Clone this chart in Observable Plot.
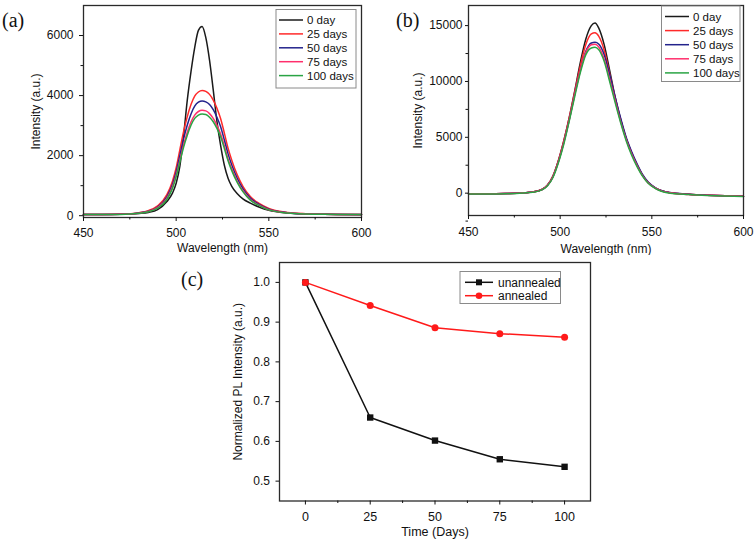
<!DOCTYPE html>
<html>
<head>
<meta charset="utf-8">
<script src="https://cdn.jsdelivr.net/npm/d3@7"></script>
<script src="https://cdn.jsdelivr.net/npm/@observablehq/plot@0.6"></script>
<style>
  html, body { margin: 0; padding: 0; background: #fff; }
  #wrap { position: relative; width: 756px; height: 540px; background: #fff; overflow: hidden; }
  #wrap > .panel { position: absolute; }
  .plabel { position: absolute; font-family: "Liberation Serif", "Times New Roman", serif; font-size: 20px; color: #111; }
</style>
</head>
<body>
<div id="wrap">
  <div class="panel" id="pa" style="left:0px; top:0px;"></div>
  <div class="panel" id="pb" style="left:380px; top:0px;"></div>
  <div class="panel" id="pc" style="left:220px; top:250px;"></div>
  <div class="plabel" style="left:2px; top:9px;">(a)</div>
  <div class="plabel" style="left:396px; top:9px;">(b)</div>
  <div class="plabel" style="left:181px; top:268px;">(c)</div>
</div>
<script>
// ---------------- DATA ----------------
const seriesNames = ["0 day", "25 days", "50 days", "75 days", "100 days"];

// Panel (a) – unannealed spectra
const wavelengthA = [450,460,470,480,485,490,495,498,500,502,504,506,508,510,512,514,516,518,520,522,524,526,528,530,533,536,540,545,550,560,570,580,590,600];
const a_day0   = [40,40,45,75,110,200,470,750,1080,1650,2660,3850,4800,5600,6170,6300,5930,5180,4190,3140,2330,1680,1250,980,730,560,420,280,180,90,55,45,40,35];
const a_day25  = [40,40,50,100,170,330,700,1150,1600,2200,2800,3300,3700,3980,4120,4170,4140,4040,3850,3580,3230,2750,2250,1850,1350,980,640,400,240,110,65,50,42,38];
const a_day50  = [40,40,46,90,150,290,630,1040,1460,2010,2560,3020,3390,3650,3780,3820,3790,3700,3530,3280,2960,2520,2060,1690,1240,900,590,370,220,100,60,48,40,36];
const a_day75  = [40,40,45,85,140,270,580,960,1350,1850,2360,2780,3120,3350,3470,3510,3490,3400,3240,3010,2720,2320,1890,1560,1140,830,540,340,200,95,58,46,40,36];
const a_day100 = [40,40,44,80,130,250,540,910,1300,1790,2280,2680,3010,3240,3350,3390,3370,3280,3130,2910,2630,2240,1830,1500,1100,800,520,330,195,90,55,45,40,36];

// Panel (b) – annealed spectra
const wavelengthB = [450,460,470,480,485,490,493,496,499,502,505,508,511,514,517,519,521,524,527,530,533,536,539,542,545,548,552,556,560,570,580,590,600];
const b_day0   = [-60,-60,-40,30,100,330,700,1500,2900,4700,6800,9200,11700,13800,15000,15240,14800,13300,11000,8600,6600,4900,3600,2500,1600,950,450,170,40,-100,-180,-230,-270];
const b_day25  = [-60,-60,-40,30,100,330,700,1500,2900,4700,6800,9100,11400,13300,14250,14350,14050,12800,10700,8500,6550,4900,3600,2500,1600,950,450,170,40,-100,-180,-230,-270];
const b_day50  = [-60,-60,-40,30,100,320,680,1450,2800,4550,6600,8900,11000,12700,13450,13500,13350,12400,10600,8600,6700,5000,3700,2600,1650,1000,480,190,50,-100,-180,-230,-270];
const b_day75  = [-60,-60,-40,30,100,320,680,1450,2800,4550,6600,8900,11000,12600,13280,13330,13100,12000,10200,8300,6400,4800,3500,2450,1550,920,440,160,30,-110,-190,-240,-280];
const b_day100 = [-70,-70,-50,20,80,290,640,1380,2700,4400,6500,8700,10800,12400,13000,13060,12850,11800,10000,8100,6300,4700,3400,2350,1500,880,400,130,0,-120,-200,-250,-290];

// Panel (c) – normalized PL intensity
const timeDays = [0, 25, 50, 75, 100];
const unannealed = [1.0, 0.660, 0.602, 0.555, 0.536];
const annealed   = [1.0, 0.942, 0.886, 0.871, 0.862];

// Tick values
const ticksA_x = [450, 500, 550, 600];
const minorA_x = [475, 525, 575];
const ticksA_y = [0, 2000, 4000, 6000];
const minorA_y = [1000, 3000, 5000];
const ticksB_y = [0, 5000, 10000, 15000];
const minorB_y = [-2500, 2500, 7500, 12500];
const ticksC_x = [0, 25, 50, 75, 100];
const minorC_x = [12.5, 37.5, 62.5, 87.5];
const ticksC_y = [0.5, 0.6, 0.7, 0.8, 0.9, 1.0];

// ---------------- STYLE ----------------
const seriesColors = ["#1a1a1a", "#ff2a2a", "#23238c", "#ff2f6c", "#2aa444"];
const font = "Liberation Sans, Arial, Helvetica, sans-serif";

function tidy(wl, arrays) {
  const rows = [];
  arrays.forEach((arr, i) => arr.forEach((v, j) => rows.push({series: seriesNames[i], wl: wl[j], v})));
  return rows;
}

function addLegend(svg, box, entries) {
  const g = d3.select(svg).append("g")
    .attr("font-family", font).attr("font-size", box.fontSize + "px").attr("text-anchor", "start")
    .style("font-family", font).style("font-size", box.fontSize + "px");
  g.append("rect").attr("x", box.x).attr("y", box.y).attr("width", box.w).attr("height", box.h)
    .attr("fill", "#fff").attr("stroke", "#8a8a8a").attr("stroke-width", 1);
  entries.forEach((e, i) => {
    const y = box.row0 + i * box.dy;
    g.append("line").attr("x1", box.lx1).attr("x2", box.lx2).attr("y1", y).attr("y2", y)
      .attr("stroke", e.color).attr("stroke-width", 1.5);
    if (e.symbol === "square") {
      g.append("rect").attr("x", (box.lx1 + box.lx2) / 2 - 3).attr("y", y - 3).attr("width", 6).attr("height", 6).attr("fill", e.color);
    } else if (e.symbol === "circle") {
      g.append("circle").attr("cx", (box.lx1 + box.lx2) / 2).attr("cy", y).attr("r", 3.3).attr("fill", e.color);
    }
    g.append("text").attr("x", box.tx).attr("y", y).attr("dy", "0.35em").attr("text-anchor", "start")
      .attr("fill", "#111").text(e.label);
  });
}

function spectrumPlot(cfg) {
  const svg = Plot.plot({
    width: cfg.width, height: cfg.height,
    marginLeft: cfg.ml, marginRight: cfg.mr, marginTop: cfg.mt, marginBottom: cfg.mb,
    style: {fontFamily: font, fontSize: "12px", color: "#111", background: "transparent"},
    x: {domain: [450, 600]},
    y: {domain: cfg.yDomain},
    color: {domain: seriesNames, range: seriesColors},
    marks: [
      Plot.line(cfg.data, {x: "wl", y: "v", z: "series", stroke: "series", strokeWidth: 1.5, curve: "monotone-x"}),
      Plot.frame({stroke: "#2a2a2a", strokeWidth: 1.3}),
      Plot.axisX({ticks: ticksA_x, tickSize: 4, tickPadding: cfg.xPad, tickFormat: "d",
        label: "Wavelength (nm)", labelAnchor: "center", labelArrow: "none", labelOffset: cfg.xLabelOffset}),
      Plot.axisX({ticks: minorA_x, tickSize: 2.5, text: null, label: null}),
      Plot.axisY({ticks: cfg.yTicks, tickSize: cfg.yTickSize, tickPadding: cfg.yPad, tickFormat: "d",
        label: "Intensity (a.u.)", labelAnchor: "center", labelArrow: "none", labelOffset: cfg.yLabelOffset}),
      Plot.axisY({ticks: cfg.yMinor, tickSize: 2.5, text: null, label: null})
    ]
  });
  return svg;
}

// Panel (a)
const svgA = spectrumPlot({
  width: 380, height: 255, ml: 83, mr: 19, mt: 5, mb: 38,
  yDomain: [-60, 7000], yTicks: ticksA_y, yMinor: minorA_y,
  xPad: 7, yPad: 6, yTickSize: 4, xLabelOffset: 34, yLabelOffset: 52,
  data: tidy(wavelengthA, [a_day0, a_day25, a_day50, a_day75, a_day100])
});
addLegend(svgA, {x: 276, y: 9.5, w: 80, h: 78.5, row0: 20, dy: 13.9, lx1: 279, lx2: 303, tx: 307, fontSize: 11.5},
  seriesNames.map((s, i) => ({label: s, color: seriesColors[i]})));
document.getElementById("pa").appendChild(svgA);

// Panel (b)
const svgB = spectrumPlot({
  width: 376, height: 255, ml: 88, mr: 13, mt: 5, mb: 40,
  yDomain: [-2000, 16800], yTicks: ticksB_y, yMinor: minorB_y,
  xPad: 8, yPad: 3, yTickSize: 3, xLabelOffset: 37, yLabelOffset: 55,
  data: tidy(wavelengthB, [b_day0, b_day25, b_day50, b_day75, b_day100])
});
addLegend(svgB, {x: 281.5, y: 6, w: 78.5, h: 75.5, row0: 16.5, dy: 14.1, lx1: 285, lx2: 309, tx: 313, fontSize: 11.5},
  seriesNames.map((s, i) => ({label: s, color: seriesColors[i]})));
document.getElementById("pb").appendChild(svgB);

// Panel (c)
const dataC = [
  ...timeDays.map((t, i) => ({group: "unannealed", t, v: unannealed[i]})),
  ...timeDays.map((t, i) => ({group: "annealed", t, v: annealed[i]}))
];
const svgC = Plot.plot({
  width: 380, height: 290,
  marginLeft: 59, marginRight: 10, marginTop: 12, marginBottom: 39.5,
  style: {fontFamily: font, fontSize: "12px", color: "#111", background: "transparent", overflow: "visible"},
  x: {domain: [-10, 110]},
  y: {domain: [0.45, 1.05]},
  marks: [
    Plot.line(dataC.filter(d => d.group === "unannealed"), {x: "t", y: "v", stroke: "#111", strokeWidth: 1.5}),
    Plot.line(dataC.filter(d => d.group === "annealed"), {x: "t", y: "v", stroke: "#ff1a1a", strokeWidth: 1.5}),
    Plot.dot(dataC.filter(d => d.group === "unannealed"), {x: "t", y: "v", symbol: "square", r: 3.6, fill: "#111"}),
    Plot.dot(dataC.filter(d => d.group === "annealed"), {x: "t", y: "v", symbol: "circle", r: 3.5, fill: "#ff1a1a"}),
    Plot.frame({stroke: "#2a2a2a", strokeWidth: 1.3}),
    Plot.axisX({ticks: ticksC_x, tickSize: 4, tickPadding: 7.5, tickFormat: "d",
      label: "Time (Days)", labelAnchor: "center", labelArrow: "none", labelOffset: 35, fontSize: 12.5}),
    Plot.axisX({ticks: minorC_x, tickSize: 2.5, text: null, label: null}),
    Plot.axisY({ticks: ticksC_y, tickSize: 3.5, tickPadding: 6, tickFormat: ".1f",
      label: "Normalized PL Intensity (a.u.)", labelAnchor: "center", labelArrow: "none", labelOffset: 46})
  ]
});
addLegend(svgC, {x: 240, y: 21.5, w: 100.5, h: 32, row0: 32.3, dy: 13.4, lx1: 245, lx2: 273, tx: 278, fontSize: 12},
  [{label: "unannealed", color: "#111", symbol: "square"}, {label: "annealed", color: "#ff1a1a", symbol: "circle"}]);
document.getElementById("pc").appendChild(svgC);
</script>
</body>
</html>
